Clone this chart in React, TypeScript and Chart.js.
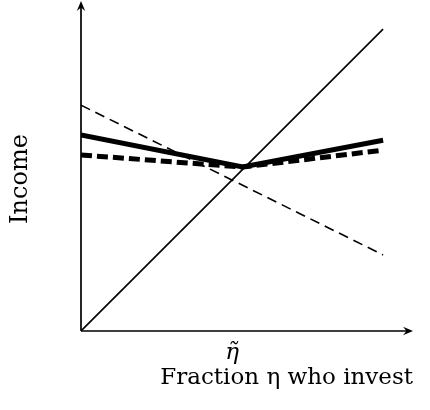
import React, { useEffect, useRef } from "react";
import { Chart, registerables } from "chart.js";

Chart.register(...registerables);

// ---- data ----
const xTickValues = [0.5];
const xTickLabels = ["η̃"];
const diagonalX = [0, 1];
const diagonalY = [0, 1];
const thinDashedX = [0, 1];
const thinDashedY = [0.748, 0.252];
const thickSolidX = [0, 0.535, 1];
const thickSolidY = [0.649, 0.543, 0.632];
const thickDashedX = [0, 0.535, 1];
const thickDashedY = [0.583, 0.543, 0.599];
const xTitle = "Fraction η who invest";
const yTitle = "Income";

const pts = (xs: number[], ys: number[]) => xs.map((x, i) => ({ x, y: ys[i] }));

const arrowPlugin = {
  id: "axesArrows",
  afterDraw(chart: any) {
    const { ctx, chartArea, scales } = chart;
    const x0 = scales.x.getPixelForValue(0);
    const y0 = scales.y.getPixelForValue(0);
    const xEnd = chartArea.right;
    const yEnd = chartArea.top;
    ctx.save();
    ctx.strokeStyle = "#000";
    ctx.fillStyle = "#000";
    ctx.lineWidth = 1.7;
    ctx.beginPath();
    ctx.moveTo(x0, y0);
    ctx.lineTo(xEnd - 3, y0);
    ctx.moveTo(x0, y0);
    ctx.lineTo(x0, yEnd + 3);
    ctx.stroke();
    // x arrow head
    ctx.beginPath();
    ctx.moveTo(xEnd, y0);
    ctx.lineTo(xEnd - 10, y0 - 4.2);
    ctx.lineTo(xEnd - 6.5, y0);
    ctx.lineTo(xEnd - 10, y0 + 4.2);
    ctx.closePath();
    ctx.fill();
    // y arrow head
    ctx.beginPath();
    ctx.moveTo(x0, yEnd);
    ctx.lineTo(x0 - 4.2, yEnd + 10);
    ctx.lineTo(x0, yEnd + 6.5);
    ctx.lineTo(x0 + 4.2, yEnd + 10);
    ctx.closePath();
    ctx.fill();
    // y title
    ctx.translate(21, 179);
    ctx.rotate(-Math.PI / 2);
    ctx.font = "24px 'DejaVu Serif'";
    ctx.textAlign = "center";
    ctx.textBaseline = "middle";
    ctx.fillText(yTitle, 0, 0);
    ctx.restore();
  },
};

export default function App() {
  const ref = useRef<HTMLCanvasElement>(null);
  useEffect(() => {
    document.body.style.margin = "0";
    const canvas = ref.current!;
    const chart = new Chart(canvas, {
      type: "line",
      data: {
        datasets: [
          {
            data: pts(diagonalX, diagonalY),
            borderColor: "#000",
            borderWidth: 1.6,
            pointRadius: 0,
          },
          {
            data: pts(thinDashedX, thinDashedY),
            borderColor: "#000",
            borderWidth: 1.6,
            borderDash: [10, 6],
            pointRadius: 0,
          },
          {
            data: pts(thickDashedX, thickDashedY),
            borderColor: "#000",
            borderWidth: 5,
            borderDash: [11, 5],
            pointRadius: 0,
          },
          {
            data: pts(thickSolidX, thickSolidY),
            borderColor: "#000",
            borderWidth: 5,
            pointRadius: 0,
          },
        ],
      },
      options: {
        responsive: false,
        animation: false,
        events: [],
        layout: { padding: { top: 1, right: 17, left: 0, bottom: 0 } },
        plugins: { legend: { display: false }, tooltip: { enabled: false } },
        scales: {
          x: {
            type: "linear",
            min: 0,
            max: 1.099,
            grid: { display: false, drawTicks: false },
            border: { display: false },
            afterBuildTicks: (s: any) => {
              s.ticks = xTickValues.map((v) => ({ value: v }));
            },
            afterFit: (s: any) => {
              s.height = 79;
            },
            ticks: {
              color: "#000",
              padding: 8,
              maxRotation: 0,
              autoSkip: false,
              font: { family: "'DejaVu Serif'", size: 23, style: "italic" },
              callback: (v: any) => {
                const i = xTickValues.indexOf(Number(v));
                return i >= 0 ? xTickLabels[i] : "";
              },
            },
            title: {
              display: true,
              text: xTitle,
              align: "end",
              color: "#000",
              font: { family: "'DejaVu Serif'", size: 23 },
              padding: { top: 0, bottom: 18 },
            },
          },
          y: {
            type: "linear",
            min: 0,
            max: 1.093,
            grid: { display: false, drawTicks: false },
            border: { display: false },
            ticks: { display: false },
            afterFit: (s: any) => {
              s.width = 81;
            },
          },
        },
      },
      plugins: [arrowPlugin],
    });
    return () => chart.destroy();
  }, []);
  return (
    <div style={{ width: 430, height: 410 }}>
      <canvas ref={ref} width={430} height={410} />
    </div>
  );
}
